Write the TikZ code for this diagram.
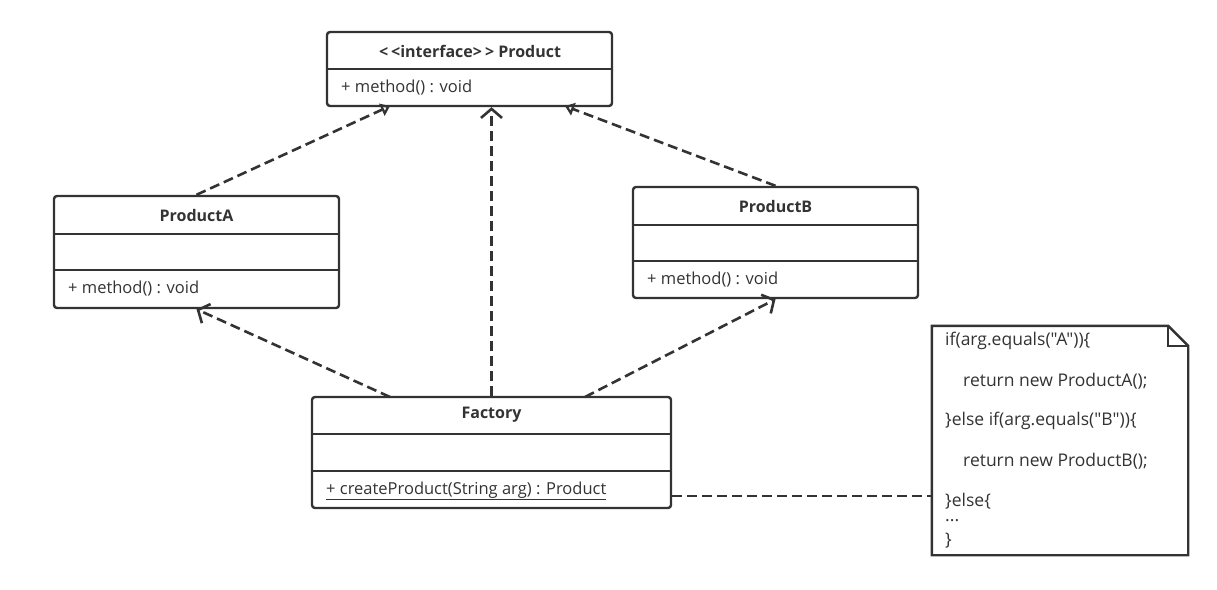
\documentclass[tikz,border=0pt]{standalone}
\usepackage{fontspec}
\setmainfont{Open Sans}[Ligatures = TeXOff]
\usetikzlibrary{arrows.meta}
\usetikzlibrary{positioning}
\definecolor{mgray}{rgb}{0.2, 0.2, 0.2}
\tikzset{cls/.style = {draw = mgray, line width = 2.4pt, rounded corners = 3pt, inner sep = 0}}
\tikzset{sep/.style = {draw = mgray, line width = 2.4pt}}
\tikzset{ttl/.style = {font = \fontsize{16pt}{19pt}\selectfont\bfseries, text = mgray, inner sep = 0}}
\tikzset{txt/.style = {anchor = west, font = \fontsize{16.5pt}{19pt}\selectfont, text = mgray, inner sep = 0}}
\tikzset{code/.style = {txt, font = \fontsize{17.5pt}{20pt}\selectfont}}
\tikzset{realize/.style = {draw = mgray, line width = 2.6pt, dash pattern = on 10pt off 5pt,
    -{Triangle[open, length = 9pt, width = 13pt]}}}
\tikzset{depend/.style = {draw = mgray, line width = 2.6pt, dash pattern = on 10pt off 5pt,
    -{Straight Barb[length = 9pt, width = 21pt]}}}
\tikzset{link/.style = {draw = mgray, line width = 2.6pt, dash pattern = on 10pt off 5pt}}

\begin{document}
\begin{tikzpicture}[x = 1pt, y = -1pt]
      \useasboundingbox (0, 0) rectangle (1217, 589);
      \node [cls, minimum width = 285, minimum height = 74] (product) at (469.5, 69) {};
      \node [cls, minimum width = 285, minimum height = 112] (productA) at (196.5, 252) {};
      \node [cls, minimum width = 285, minimum height = 111] (productB) at (775.5, 242.5) {};
      \node [cls, minimum width = 359, minimum height = 111] (factory) at (491.5, 452.5) {};
      \node [minimum width = 256, minimum height = 229, inner sep = 0] (note) at (1060, 440.5) {};

      \foreach \n/\y in {product/69, productA/234, productA/270, productB/225, productB/261, factory/434, factory/471} {
        \draw [sep] (\n.west |- 0, \y) -- (\n.east |- 0, \y);
      }

      % note with folded corner
      \draw [sep] (note.north west) -- ([xshift = -20pt]note.north east) -- ([yshift = -20pt]note.north east)
        -- (note.south east) -- (note.south west) -- cycle;
      \draw [sep] ([xshift = -20pt]note.north east) -- ([xshift = -20pt, yshift = -20pt]note.north east)
        -- ([yshift = -20pt]note.north east);

      \node [ttl] (productT) at (470, 51) {<\kern3pt<interface>\kern3pt> Product};
      \node [txt] (productM) at (341, 88) {+ method() : void};
      \node [ttl] (productAT) at (196.5, 215) {ProductA};
      \node [txt] (productAM) at (68, 289) {+ method() : void};
      \node [ttl] (productBT) at (775.5, 206) {ProductB};
      \node [txt] (productBM) at (647, 280) {+ method() : void};
      \node [ttl] (factoryT) at (491.5, 415) {Factory};
      \node [txt] (factoryM) at (326, 491) {\underline{+ createProduct(String arg) : Product}};

      \node [code] (line1) at (945, 341) {if(arg.equals("A"))\{};
      \node [code] (line2) at (963, 381) {return new ProductA();};
      \node [code] (line3) at (945, 421) {\}else if(arg.equals("B"))\{};
      \node [code] (line4) at (963, 461) {return new ProductB();};
      \node [code] (line5) at (945, 501) {\}else\{};
      \node [code] (line6) at (945, 521) {...};
      \node [code] (line7) at (945, 541) {\}};

      \coordinate (pL) at (390, 106);
      \coordinate (pR) at (565, 106);
      \coordinate (fL) at (390, 397);
      \coordinate (fR) at (585, 397);
      \draw [realize] (productA.north) -- (pL);
      \draw [realize] (productB.north) -- (pR);
      \draw [depend] (factory.north) -- (factory.north |- product.south);
      \draw [depend] (fL) -- (productA.south);
      \draw [depend] (fR) -- (productB.south);
      \draw [link] (factory.east |- 0, 496) -- (note.west |- 0, 496);
    \end{tikzpicture}
\end{document}
